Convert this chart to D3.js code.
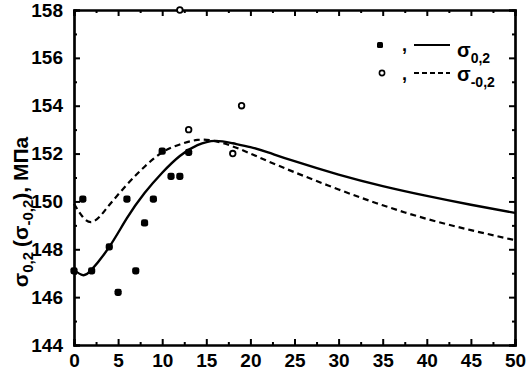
<!DOCTYPE html>
<html>
<head>
<meta charset="utf-8">
<script src="https://cdn.jsdelivr.net/npm/d3@7/dist/d3.min.js"></script>
<style>
  body { margin: 0; background: #fff; }
  svg { display: block; font-family: "Liberation Sans", Arial, sans-serif; font-weight: bold; }
</style>
</head>
<body>
<svg id="chart" width="528" height="371"></svg>
<script>
// ---- data ----
const xTicks = [0, 5, 10, 15, 20, 25, 30, 35, 40, 45, 50];
const yTicks = [144, 146, 148, 150, 152, 154, 156, 158];

// σ0,2 measured points (filled)
const s02X = [0, 1, 2, 4, 5, 6, 7, 8, 9, 10, 11, 12, 13];
const s02Y = [147.1, 150.1, 147.1, 148.1, 146.2, 150.1, 147.1, 149.1, 150.1, 152.1, 151.05, 151.05, 152.05];

// σ-0,2 measured points (open)
const sm02X = [12, 13, 18, 19];
const sm02Y = [158, 153, 152, 154];

// fitted curves
const curveX = [0, 1, 2, 4, 6, 8, 10, 12, 14, 16, 18, 20, 22, 25, 30, 35, 40, 45, 50];
const solidY = [147.13, 146.92, 147.15, 148.1, 149.3, 150.35, 151.2, 151.9, 152.35, 152.53, 152.43, 152.27, 152.05, 151.68, 151.12, 150.64, 150.23, 149.86, 149.52];
const dashedX = [0, 1, 2, 3, 4, 6, 8, 10, 12, 14, 16, 18, 20, 22, 25, 30, 35, 40, 45, 50];
const dashedY = [149.9, 149.35, 149.14, 149.4, 149.85, 150.7, 151.45, 152.05, 152.38, 152.57, 152.52, 152.3, 152.0, 151.68, 151.22, 150.5, 149.84, 149.27, 148.8, 148.38];

// ---- drawing ----
(function () {
const svg = d3.select("#chart");
const L = 74, R = 515, T = 10, B = 345;
const x = d3.scaleLinear().domain([0, 50]).range([L, R]);
const y = d3.scaleLinear().domain([144, 158]).range([B, T]);

const line = d3.line().x(d => x(d[0])).y(d => y(d[1])).curve(d3.curveNatural);

svg.append("path")
  .datum(curveX.map((v, i) => [v, solidY[i]]))
  .attr("d", line).attr("fill", "none").attr("stroke", "#000").attr("stroke-width", 2.4);

svg.append("path")
  .datum(dashedX.map((v, i) => [v, dashedY[i]]))
  .attr("d", line).attr("fill", "none").attr("stroke", "#000").attr("stroke-width", 2.2)
  .attr("stroke-dasharray", "6,4");

// axes (inward ticks)
const ax = svg.append("g");
const minorX = d3.range(2.5, 50, 5);
const minorY = d3.range(145, 158, 2);

ax.append("g").attr("transform", `translate(0,${B})`)
  .call(d3.axisBottom(x).tickValues(xTicks).tickSize(-6).tickPadding(9).tickFormat(d3.format("d")));
ax.append("g").attr("transform", `translate(0,${T})`)
  .call(d3.axisTop(x).tickValues(xTicks).tickSize(-6).tickFormat(""));
ax.append("g").attr("transform", `translate(${L},0)`)
  .call(d3.axisLeft(y).tickValues(yTicks).tickSize(-6).tickPadding(11).tickFormat(d3.format("d")));
ax.append("g").attr("transform", `translate(${R},0)`)
  .call(d3.axisRight(y).tickValues(yTicks).tickSize(-6).tickFormat(""));

ax.append("g").attr("transform", `translate(0,${B})`).call(d3.axisBottom(x).tickValues(minorX).tickSize(-3).tickFormat(""));
ax.append("g").attr("transform", `translate(0,${T})`).call(d3.axisTop(x).tickValues(minorX).tickSize(-3).tickFormat(""));
ax.append("g").attr("transform", `translate(${L},0)`).call(d3.axisLeft(y).tickValues(minorY).tickSize(-3).tickFormat(""));
ax.append("g").attr("transform", `translate(${R},0)`).call(d3.axisRight(y).tickValues(minorY).tickSize(-3).tickFormat(""));

ax.selectAll(".domain").attr("stroke", "#000").attr("stroke-width", 2.2);
ax.selectAll(".tick line").attr("stroke", "#000").attr("stroke-width", 2);
ax.selectAll(".tick text").attr("fill", "#000").style("font-size", "19px").style("font-family", "Liberation Sans, Arial, sans-serif").style("font-weight", "bold");

// markers
svg.append("g").selectAll("rect").data(s02X.map((v, i) => [v, s02Y[i]])).join("rect")
  .attr("x", d => x(d[0]) - 3.6).attr("y", d => y(d[1]) - 3.6)
  .attr("width", 7.2).attr("height", 7.2).attr("rx", 2.4).attr("fill", "#000");

svg.append("g").selectAll("circle").data(sm02X.map((v, i) => [v, sm02Y[i]])).join("circle")
  .attr("cx", d => x(d[0])).attr("cy", d => y(d[1])).attr("r", 2.8)
  .attr("fill", "#fff").attr("stroke", "#000").attr("stroke-width", 1.8);

// legend
const lg = svg.append("g");
lg.append("rect").attr("x", 377).attr("y", 42).attr("width", 6).attr("height", 6).attr("rx", 1.5).attr("fill", "#000");
lg.append("text").attr("x", 402).attr("y", 51).style("font-size", "18px").text(",");
lg.append("line").attr("x1", 414).attr("x2", 450).attr("y1", 45).attr("y2", 45).attr("stroke", "#000").attr("stroke-width", 2.2);
const t1 = lg.append("text").attr("x", 457).attr("y", 57).style("font-size", "20px");
t1.append("tspan").text("σ");
t1.append("tspan").attr("dy", 6).style("font-size", "14px").text("0,2");

lg.append("circle").attr("cx", 382).attr("cy", 73).attr("r", 2.6).attr("fill", "#fff").attr("stroke", "#000").attr("stroke-width", 1.6);
lg.append("text").attr("x", 402).attr("y", 80).style("font-size", "18px").text(",");
lg.append("line").attr("x1", 414).attr("x2", 450).attr("y1", 73).attr("y2", 73).attr("stroke", "#000").attr("stroke-width", 2).attr("stroke-dasharray", "5,3");
const t2 = lg.append("text").attr("x", 457).attr("y", 81).style("font-size", "20px");
t2.append("tspan").text("σ");
t2.append("tspan").attr("dy", 6).style("font-size", "14px").text("-0,2");

// y axis title
const yt = svg.append("text").attr("transform", "translate(28,212) rotate(-90)")
  .attr("text-anchor", "middle").style("font-size", "21px");
yt.append("tspan").text("σ");
yt.append("tspan").attr("dy", 5).style("font-size", "15px").text("0,2");
yt.append("tspan").attr("dy", -5).attr("dx", 5).text("(σ");
yt.append("tspan").attr("dy", 5).style("font-size", "15px").text("-0,2");
yt.append("tspan").attr("dy", -5).text("), МПа");
})();
</script>
</body>
</html>
